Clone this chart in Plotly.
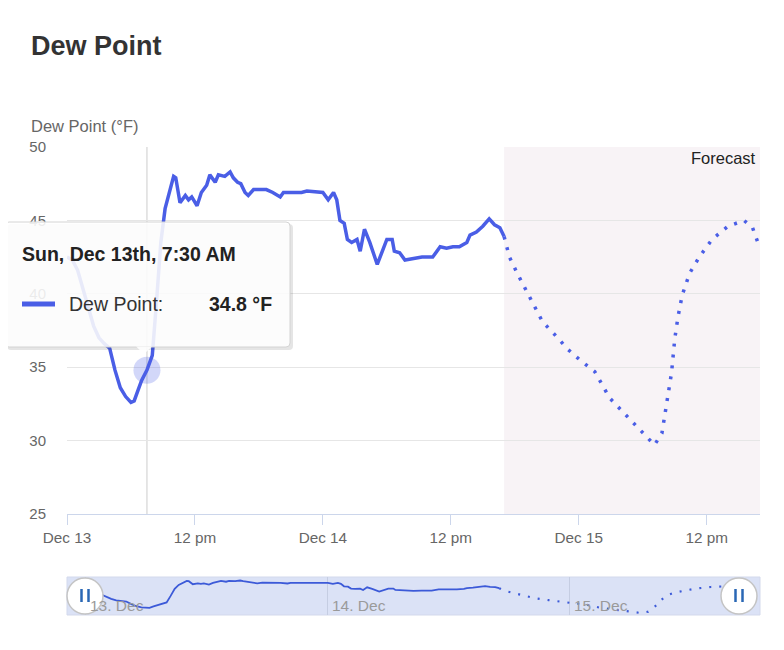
import pandas as pd
import plotly.graph_objects as go

# ---------------- data ----------------
start = pd.Timestamp("2020-12-13 00:00")
obs_hours = [0.0, 0.5, 1.0, 1.5, 2.0, 2.5, 3.0, 3.5, 4.0, 4.5, 5.0, 5.5, 6.0, 6.3, 6.7, 7.0, 7.5, 8.0,
             8.4, 8.8, 9.2, 9.6, 10.0, 10.2, 10.6, 11.1, 11.4, 11.7, 12.2, 12.6, 13.1, 13.4, 13.9,
             14.2, 14.8, 15.3, 15.6, 16.0, 16.3, 16.7, 17.0, 17.5, 18.1, 18.7, 19.3, 20.0, 20.3,
             21.0, 22.0, 22.5, 23.5, 24.0, 24.5, 25.0, 25.3, 25.6, 26.0, 26.3, 26.7, 27.2, 27.5,
             27.9, 28.4, 29.1, 30.0, 30.5, 30.7, 31.2, 31.7, 32.5, 33.3, 34.3, 35.0, 35.6, 36.2,
             36.8, 37.5, 37.8, 38.4, 39.0, 39.6, 40.1, 40.6, 41.0]
obs_values = [42.5, 42.3, 41.6, 40.3, 39.0, 37.8, 37.0, 36.6, 36.3, 34.8, 33.6, 33.0, 32.6, 32.7, 33.5,
              34.1, 34.8, 35.8, 39.5, 43.5, 45.8, 47.0, 48.0, 47.9, 46.2, 46.7, 46.4, 46.6, 46.0,
              46.9, 47.4, 48.1, 47.6, 48.1, 48.0, 48.3, 47.9, 47.6, 47.5, 46.9, 46.7, 47.1, 47.1,
              47.1, 46.9, 46.6, 46.9, 46.9, 46.9, 47.0, 46.9, 46.9, 46.4, 46.9, 46.4, 45.0, 44.8,
              43.7, 43.5, 43.7, 42.9, 44.4, 43.5, 42.0, 43.7, 43.7, 42.9, 42.8, 42.3, 42.4, 42.5,
              42.5, 43.2, 43.1, 43.2, 43.2, 43.5, 44.0, 44.2, 44.6, 45.1, 44.7, 44.5, 43.9]
fc_hours = [41.0, 41.5, 42.3, 43.2, 44.0, 44.6, 45.9, 47.0, 48.1, 49.5, 50.9, 52.5, 53.5, 54.4, 55.1,
            55.8, 56.2, 56.7, 57.0, 57.3, 57.7, 58.4, 59.3, 60.5, 62.0, 63.5, 64.3, 65.0]
fc_values = [43.9, 42.5, 41.3, 40.0, 38.9, 38.1, 37.1, 36.2, 35.5, 34.7, 32.9, 31.7, 30.9, 30.2, 29.7,
             30.5, 32.3, 34.6, 36.9, 38.4, 39.9, 41.4, 42.5, 43.7, 44.6, 45.0, 44.5, 43.1]
tick_hours = [0, 12, 24, 36, 48, 60]
tick_labels = ["Dec 13", "12 pm", "Dec 14", "12 pm", "Dec 15", "12 pm"]
y_ticks = [25, 30, 35, 40, 45, 50]
nav_hours = [0, 24, 48]
nav_labels = ["13. Dec", "14. Dec", "15. Dec"]
hover_hour = 7.5
hover_value = 34.8
forecast_start_hour = 41.0


def t(h):
    return start + pd.Timedelta(hours=h)


obs_t = [t(h) for h in obs_hours]
fc_t = [t(h) for h in fc_hours]

# ---------------- geometry helpers (window pixels -> paper) ----------------
OFF = 8  # page body margin
L, R, T, B = 67 - OFF, 760 - OFF, 147 - OFF, 615 - OFF
W, H = 776, 642


def fx(px):
    return (px - OFF - L) / (R - L)


def fy(py):
    return (B - (py - OFF)) / (B - T)


BLUE = "#4a5ee6"
FONT = "Liberation Sans"

fig = go.Figure()

# main series
fig.add_trace(go.Scatter(x=obs_t, y=obs_values, mode="lines",
                         line=dict(color=BLUE, width=3.5), hoverinfo="skip", xaxis="x", yaxis="y"))
fig.add_trace(go.Scatter(x=fc_t, y=fc_values, mode="lines",
                         line=dict(color=BLUE, width=3.5, dash="3px,8px"), hoverinfo="skip",
                         xaxis="x", yaxis="y"))
# hover halo
fig.add_trace(go.Scatter(x=[t(hover_hour)], y=[hover_value], mode="markers",
                         marker=dict(size=27, color="rgba(74,94,230,0.25)"), hoverinfo="skip",
                         xaxis="x", yaxis="y"))

# navigator series
fig.add_trace(go.Scatter(x=obs_t, y=obs_values, mode="lines",
                         line=dict(color="#3c5ad8", width=1.8), hoverinfo="skip", xaxis="x2", yaxis="y2"))
fig.add_trace(go.Scatter(x=fc_t, y=fc_values, mode="lines",
                         line=dict(color="#3c5ad8", width=2.2, dash="2px,8px"), hoverinfo="skip",
                         xaxis="x2", yaxis="y2"))

shapes = []
# forecast shading
shapes.append(dict(type="rect", xref="x", yref="y", x0=t(forecast_start_hour), x1=t(65),
                   y0=25, y1=50, fillcolor="#f8f3f6", line=dict(width=0), layer="below"))
# crosshair
shapes.append(dict(type="line", xref="x", yref="y", x0=t(hover_hour), x1=t(hover_hour),
                   y0=25, y1=50, line=dict(color="#cccccc", width=1), layer="below"))
# navigator band
shapes.append(dict(type="rect", xref="paper", yref="paper", x0=fx(67), x1=fx(760), y0=fy(615), y1=fy(577),
                   fillcolor="#dbe2f6", line=dict(color="#d3d9ec", width=1), layer="below"))


def rounded(x0, y0, x1, y1, r):
    rx = r / (R - L)
    ry = r / (B - T)
    a, b, c, d = fx(x0), fy(y0), fx(x1), fy(y1)
    return (f"M {a+rx},{b} L {c-rx},{b} Q {c},{b} {c},{b-ry} L {c},{d+ry} Q {c},{d} {c-rx},{d} "
            f"L {a+rx},{d} Q {a},{d} {a},{d+ry} L {a},{b-ry} Q {a},{b} {a+rx},{b} Z")


# tooltip shadow + box
shapes.append(dict(type="path", xref="paper", yref="paper", path=rounded(7, 224, 293, 350, 4),
                   fillcolor="rgba(0,0,0,0.10)", line=dict(width=0), layer="above"))
shapes.append(dict(type="path", xref="paper", yref="paper", path=rounded(5, 222, 290, 347, 4),
                   fillcolor="rgba(255,255,255,0.88)", line=dict(color="#d4d4d4", width=1), layer="above"))
# tooltip pointer
shapes.append(dict(type="path", xref="paper", yref="paper",
                   path=f"M {fx(136)},{fy(346.5)} L {fx(144)},{fy(354)} L {fx(152)},{fy(346.5)} Z",
                   fillcolor="rgba(255,255,255,0.88)", line=dict(width=0), layer="above"))
# tooltip swatch
shapes.append(dict(type="line", xref="paper", yref="paper", x0=fx(22), x1=fx(55), y0=fy(304), y1=fy(304),
                   line=dict(color=BLUE, width=5), layer="above"))

# navigator handles
for cx in (85, 739):
    shapes.append(dict(type="circle", xref="paper", yref="paper", x0=fx(cx - 18), x1=fx(cx + 18),
                       y0=fy(614), y1=fy(578), fillcolor="white", line=dict(color="#c4c4c4", width=1.5),
                       layer="above"))
    for dx in (-3.5, 3.5):
        shapes.append(dict(type="line", xref="paper", yref="paper", x0=fx(cx + dx), x1=fx(cx + dx),
                           y0=fy(589), y1=fy(602), line=dict(color="#2a67b5", width=2.5), layer="above"))

annotations = [
    dict(text="<b>Dew Point</b>", xref="paper", yref="paper", x=fx(29), y=fy(46), xanchor="left",
         yanchor="middle", showarrow=False, font=dict(family=FONT, size=27, color="#333333")),
    dict(text="Dew Point (°F)", xref="paper", yref="paper", x=fx(29), y=fy(126), xanchor="left",
         yanchor="middle", showarrow=False, font=dict(family=FONT, size=16.5, color="#666666")),
    dict(text="Forecast", xref="paper", yref="paper", x=fx(758), y=fy(158), xanchor="right",
         yanchor="middle", showarrow=False, font=dict(family=FONT, size=16.5, color="#222222")),
    dict(text="<b>Sun, Dec 13th, 7:30 AM</b>", xref="paper", yref="paper", x=fx(20), y=fy(254),
         xanchor="left", yanchor="middle", showarrow=False, font=dict(family=FONT, size=19.5, color="#222222")),
    dict(text="Dew Point:", xref="paper", yref="paper", x=fx(67), y=fy(304), xanchor="left",
         yanchor="middle", showarrow=False, font=dict(family=FONT, size=19.5, color="#333333")),
    dict(text=f"<b>{hover_value} °F</b>", xref="paper", yref="paper", x=fx(274), y=fy(304), xanchor="right",
         yanchor="middle", showarrow=False, font=dict(family=FONT, size=19.5, color="#222222")),
]
for h, lab in zip(nav_hours, nav_labels):
    annotations.append(dict(text=lab, xref="x2", yref="paper", x=t(h), y=fy(605), xanchor="left",
                            xshift=2, yanchor="middle", showarrow=False,
                            font=dict(family=FONT, size=15.5, color="#9a9a9a")))

nav_x0 = -(86 - 67) / 242 * 24
nav_x1 = 65 + (760 - 741) / 242 * 24

fig.update_layout(
    width=W, height=H,
    margin=dict(l=L, r=W - R, t=T, b=H - B),
    paper_bgcolor="white", plot_bgcolor="white",
    showlegend=False,
    font=dict(family=FONT, color="#666666"),
    xaxis=dict(domain=[0, 1], anchor="y", range=[t(0), t(65)], tickvals=[t(h) for h in tick_hours],
               ticktext=tick_labels, showgrid=False, zeroline=False, showline=True, linecolor="#ccd6eb",
               linewidth=1, ticks="outside", ticklen=10, tickcolor="#ccd6eb",
               tickfont=dict(family=FONT, size=15.3, color="#666666")),
    yaxis=dict(domain=[fy(514), 1], anchor="x", range=[25, 50], tickvals=y_ticks, showgrid=True,
               gridcolor="#e6e6e6", gridwidth=1, zeroline=False, showline=False, ticks="",
               ticklabelstandoff=20, tickfont=dict(family=FONT, size=15, color="#666666")),
    xaxis2=dict(domain=[0, 1], anchor="y2", range=[t(nav_x0), t(nav_x1)], tickvals=[t(h) for h in nav_hours],
                showticklabels=False, showgrid=True, gridcolor="#c5cde2", zeroline=False, showline=False),
    yaxis2=dict(domain=[0, fy(577)], anchor="x2", range=[28.6, 50.3], showticklabels=False, showgrid=False,
                zeroline=False),
    shapes=shapes,
    annotations=annotations,
)

fig.write_html("out.html")
